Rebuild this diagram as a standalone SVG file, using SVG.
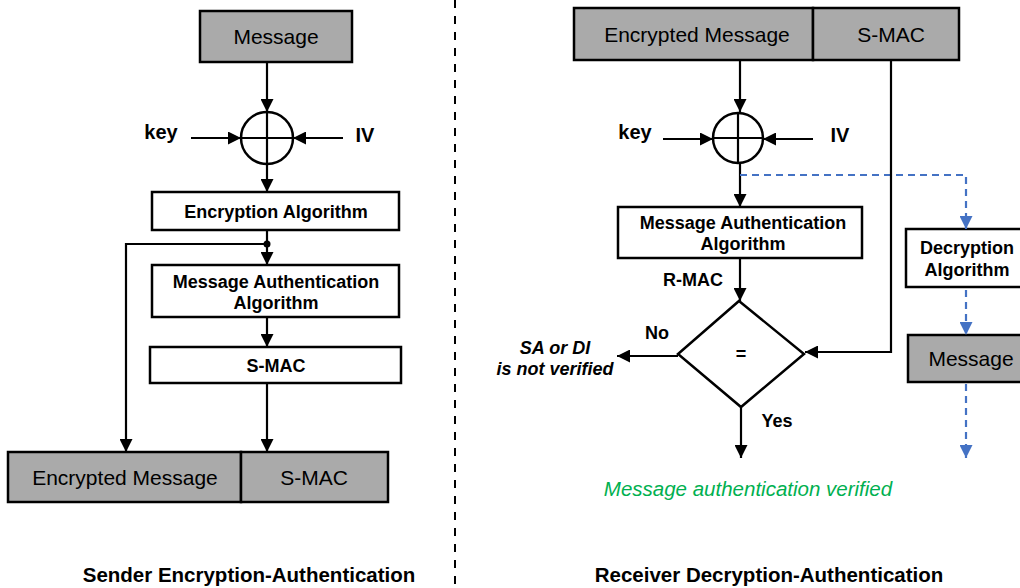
<svg xmlns="http://www.w3.org/2000/svg" width="1020" height="588" viewBox="0 0 1020 588">
<defs>
<marker id="ah" markerWidth="13" markerHeight="13" viewBox="0 0 13 13" refX="13" refY="6.5" orient="auto" markerUnits="userSpaceOnUse"><path d="M0,0 L13,6.5 L0,13 Z" fill="#000"/></marker>
<marker id="ahb" markerWidth="13" markerHeight="13" viewBox="0 0 13 13" refX="13" refY="6.5" orient="auto" markerUnits="userSpaceOnUse"><path d="M0,0 L13,6.5 L0,13 Z" fill="#4472c4"/></marker>
<style>
.box{fill:#fff;stroke:#000;stroke-width:2.5}
.gbox{fill:#aaaaaa;stroke:#000;stroke-width:2.5}
.ln{fill:none;stroke:#000;stroke-width:2.2}
.arr{fill:none;stroke:#000;stroke-width:2.2;marker-end:url(#ah)}
.darr{fill:none;stroke:#4472c4;stroke-width:2.2;stroke-dasharray:7,5;marker-end:url(#ahb)}
.t{font-family:"Liberation Sans",Arial,sans-serif;fill:#000;text-anchor:middle}
.r{font-size:21px}
.b{font-size:18px;font-weight:bold}
.k{font-size:20px;font-weight:bold}
.i{font-style:italic;font-weight:bold;font-size:18px}
</style>
</defs>
<line x1="455" y1="0" x2="455" y2="588" stroke="#000" stroke-width="2" stroke-dasharray="8,8"/>

<g id="s-message"><rect class="gbox" x="200" y="11" width="152" height="51"/><text class="t r" x="276" y="44">Message</text></g>
<g id="s-xor"><circle cx="267" cy="138" r="26" fill="#fff" stroke="#000" stroke-width="2.5"/><line class="ln" x1="241" y1="138" x2="293" y2="138"/><line class="ln" x1="267" y1="112" x2="267" y2="164"/></g>
<g id="s-key"><text class="t k" x="161" y="139">key</text></g>
<g id="s-iv"><text class="t k" x="365" y="142">IV</text></g>
<g id="s-enc"><rect class="box" x="152" y="192" width="247" height="38"/><text class="t b" x="276" y="218">Encryption Algorithm</text></g>
<g id="s-maa"><rect class="box" x="152" y="265" width="247" height="52"/><text class="t b" x="276" y="288">Message Authentication</text><text class="t b" x="276" y="309">Algorithm</text></g>
<g id="s-smac"><rect class="box" x="150" y="347" width="251" height="36"/><text class="t b" x="276" y="372">S-MAC</text></g>
<g id="s-out"><rect class="gbox" x="8" y="452" width="233" height="50"/><rect class="gbox" x="241" y="452" width="147" height="50"/><text class="t r" x="125" y="485">Encrypted Message</text><text class="t r" x="314" y="485">S-MAC</text></g>

<g id="r-in"><rect class="gbox" x="574" y="8" width="239" height="52"/><rect class="gbox" x="813" y="8" width="146" height="52"/><text class="t r" x="697" y="42">Encrypted Message</text><text class="t r" x="891" y="42">S-MAC</text></g>
<g id="r-xor"><circle cx="738" cy="138" r="25" fill="#fff" stroke="#000" stroke-width="2.5"/><line class="ln" x1="713" y1="138" x2="763" y2="138"/><line class="ln" x1="738" y1="113" x2="738" y2="163"/></g>
<g id="r-key"><text class="t k" x="635" y="139">key</text></g>
<g id="r-iv"><text class="t k" x="840" y="142">IV</text></g>
<g id="r-maa"><rect class="box" x="618" y="207" width="244" height="51"/><text class="t b" x="743" y="229">Message Authentication</text><text class="t b" x="743" y="250">Algorithm</text></g>
<g id="r-rmac"><text class="t b" x="693" y="286">R-MAC</text></g>
<g id="r-cmp"><path d="M739,301 L804,354 L741,407 L678,354 Z" fill="#fff" stroke="#000" stroke-width="2.5"/><text class="t b" x="741" y="360">=</text></g>
<g id="r-no"><text class="t b" x="657" y="339">No</text></g>
<g id="r-fail"><text class="t i" x="555" y="354">SA or DI</text><text class="t i" x="555" y="375">is not verified</text></g>
<g id="r-yes"><text class="t b" x="777" y="427">Yes</text></g>
<g id="r-ok"><text class="t" x="748" y="496" style="font-size:20.5px;font-style:italic;fill:#00b050">Message authentication verified</text></g>
<g id="r-dec"><rect class="box" x="906" y="229" width="120" height="58"/><text class="t b" x="967" y="254">Decryption</text><text class="t b" x="967" y="276">Algorithm</text></g>
<g id="r-msg"><rect class="gbox" x="908" y="335" width="120" height="47"/><text class="t r" x="971" y="366">Message</text></g>

<g id="connectors">
<line class="arr" x1="267" y1="62" x2="267" y2="112"/>
<line class="arr" x1="191" y1="138" x2="241" y2="138"/>
<line class="arr" x1="343" y1="138" x2="293" y2="138"/>
<line class="arr" x1="267" y1="164" x2="267" y2="192"/>
<line class="arr" x1="267" y1="230" x2="267" y2="265"/>
<circle cx="267" cy="244" r="3.5" fill="#000"/>
<polyline class="arr" points="267,244 126,244 126,452"/>
<line class="arr" x1="267" y1="317" x2="267" y2="347"/>
<line class="arr" x1="267" y1="383" x2="267" y2="452"/>

<line class="arr" x1="740" y1="60" x2="740" y2="112"/>
<line class="arr" x1="663" y1="139" x2="713" y2="139"/>
<line class="arr" x1="813" y1="139" x2="763" y2="139"/>
<line class="arr" x1="740" y1="163" x2="740" y2="207"/>
<polyline class="darr" points="740,175 966,175 966,229"/>
<line class="arr" x1="740" y1="258" x2="740" y2="301"/>
<polyline class="arr" points="891,60 891,352 805,352"/>
<line class="arr" x1="678" y1="356" x2="617" y2="356"/>
<line class="arr" x1="741" y1="407" x2="741" y2="458"/>
<line class="darr" x1="966" y1="290" x2="966" y2="335"/>
<line class="darr" x1="966" y1="384" x2="966" y2="458"/>
</g>

<text class="t" x="249" y="582" style="font-size:20.5px;font-weight:bold">Sender Encryption-Authentication</text>
<text class="t" x="769" y="582" style="font-size:20.5px;font-weight:bold">Receiver Decryption-Authentication</text>
</svg>
